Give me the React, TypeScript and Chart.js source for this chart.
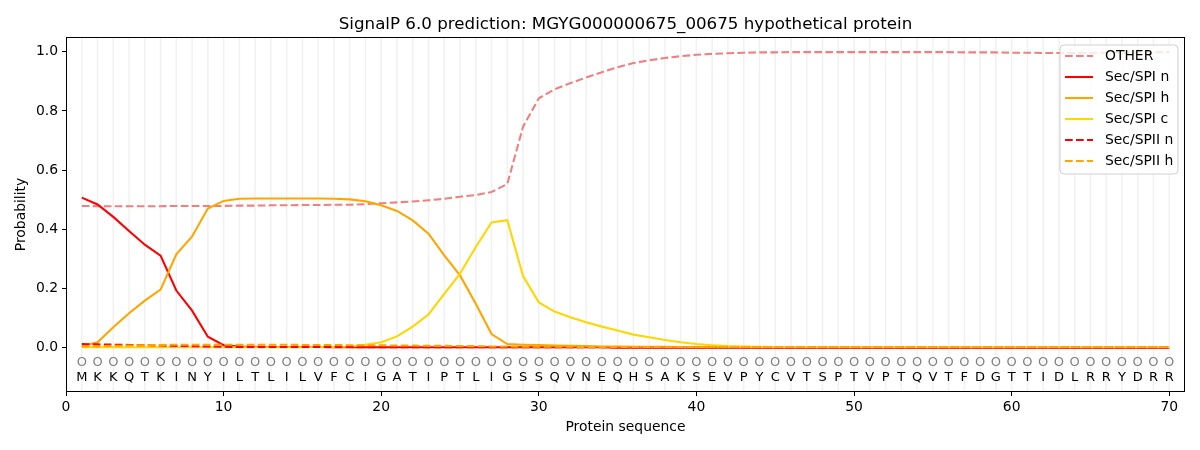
import { useEffect, useRef } from "react";
import { Chart, registerables } from "chart.js";

Chart.register(...registerables);

const FONT = "'DejaVu Sans', 'Liberation Sans', sans-serif";

const chartTitle = "SignalP 6.0 prediction: MGYG000000675_00675 hypothetical protein";
const xAxisTitle = "Protein sequence";
const yAxisTitle = "Probability";

const residues = [
  "M", "K", "K", "Q", "T", "K", "I", "N", "Y", "I",
  "L", "T", "L", "I", "L", "V", "F", "C", "I", "G",
  "A", "T", "I", "P", "T", "L", "I", "G", "S", "S",
  "Q", "V", "N", "E", "Q", "H", "S", "A", "K", "S",
  "E", "V", "P", "Y", "C", "V", "T", "S", "P", "T",
  "V", "P", "T", "Q", "V", "T", "F", "D", "G", "T",
  "T", "I", "D", "L", "R", "R", "Y", "D", "R", "R",
];
const predictedLabels = residues.map(() => "O");

const otherProb = [
  0.479, 0.478, 0.478, 0.478, 0.478, 0.478, 0.479, 0.479, 0.479, 0.479,
  0.480, 0.480, 0.481, 0.481, 0.482, 0.482, 0.483, 0.483, 0.485, 0.488,
  0.491, 0.494, 0.498, 0.503, 0.510, 0.516, 0.526, 0.553, 0.747, 0.843,
  0.873, 0.894, 0.913, 0.931, 0.948, 0.962, 0.971, 0.979, 0.985, 0.990,
  0.993, 0.995, 0.997, 0.998, 0.998, 0.999, 0.999, 0.999, 0.999, 0.999,
  0.999, 0.999, 0.999, 0.999, 0.999, 0.999, 0.998, 0.998, 0.998, 0.997,
  0.997, 0.996, 0.996, 0.996, 0.997, 0.997, 0.998, 0.998, 0.999, 0.999,
];
const spiN = [
  0.507, 0.484, 0.442, 0.394, 0.348, 0.311, 0.193, 0.125, 0.037, 0.008,
  0.004, 0.003, 0.002, 0.002, 0.002, 0.002, 0.001, 0.001, 0.001, 0.001,
  0.001, 0.001, 0.001, 0.001, 0.001, 0.001, 0.001, 0.001, 0.001, 0.001,
  0.001, 0.001, 0.001, 0.001, 0.000, 0.000, 0.000, 0.000, 0.000, 0.000,
  0.000, 0.000, 0.000, 0.000, 0.000, 0.000, 0.000, 0.000, 0.000, 0.000,
  0.000, 0.000, 0.000, 0.000, 0.000, 0.000, 0.000, 0.000, 0.000, 0.000,
  0.000, 0.000, 0.000, 0.000, 0.000, 0.000, 0.000, 0.000, 0.000, 0.000,
];
const spiH = [
  0.005, 0.018, 0.069, 0.116, 0.159, 0.196, 0.315, 0.376, 0.470, 0.496,
  0.503, 0.504, 0.504, 0.504, 0.504, 0.504, 0.503, 0.501, 0.495, 0.481,
  0.462, 0.430, 0.385, 0.312, 0.244, 0.148, 0.046, 0.012, 0.010, 0.009,
  0.007, 0.006, 0.005, 0.004, 0.004, 0.003, 0.003, 0.003, 0.002, 0.002,
  0.002, 0.002, 0.002, 0.002, 0.002, 0.002, 0.002, 0.002, 0.002, 0.002,
  0.002, 0.002, 0.002, 0.002, 0.002, 0.002, 0.002, 0.002, 0.002, 0.002,
  0.002, 0.002, 0.002, 0.002, 0.002, 0.002, 0.002, 0.002, 0.002, 0.002,
];
const spiC = [
  0.001, 0.001, 0.001, 0.001, 0.001, 0.001, 0.001, 0.001, 0.001, 0.001,
  0.001, 0.001, 0.001, 0.001, 0.001, 0.002, 0.002, 0.004, 0.010, 0.018,
  0.038, 0.071, 0.112, 0.182, 0.250, 0.340, 0.423, 0.431, 0.242, 0.153,
  0.122, 0.103, 0.086, 0.071, 0.058, 0.044, 0.035, 0.026, 0.018, 0.012,
  0.008, 0.005, 0.004, 0.003, 0.002, 0.002, 0.002, 0.002, 0.002, 0.002,
  0.002, 0.002, 0.002, 0.002, 0.002, 0.002, 0.002, 0.002, 0.002, 0.002,
  0.002, 0.002, 0.002, 0.002, 0.002, 0.002, 0.002, 0.002, 0.002, 0.002,
];
const spiiN = [
  0.012, 0.011, 0.010, 0.009, 0.008, 0.007, 0.006, 0.005, 0.004, 0.003,
  0.002, 0.002, 0.002, 0.002, 0.002, 0.002, 0.002, 0.002, 0.001, 0.001,
  0.001, 0.001, 0.001, 0.001, 0.001, 0.001, 0.001, 0.001, 0.001, 0.001,
  0.001, 0.001, 0.001, 0.001, 0.001, 0.001, 0.001, 0.001, 0.001, 0.001,
  0.001, 0.001, 0.001, 0.001, 0.001, 0.001, 0.001, 0.001, 0.001, 0.001,
  0.001, 0.001, 0.001, 0.001, 0.001, 0.001, 0.001, 0.001, 0.001, 0.001,
  0.001, 0.001, 0.001, 0.001, 0.001, 0.001, 0.001, 0.001, 0.001, 0.001,
];
const spiiH = [
  0.004, 0.005, 0.006, 0.007, 0.008, 0.009, 0.010, 0.010, 0.010, 0.010,
  0.010, 0.010, 0.010, 0.010, 0.009, 0.009, 0.009, 0.008, 0.008, 0.008,
  0.007, 0.007, 0.006, 0.006, 0.005, 0.005, 0.004, 0.004, 0.003, 0.003,
  0.003, 0.003, 0.002, 0.002, 0.002, 0.002, 0.002, 0.002, 0.002, 0.002,
  0.002, 0.002, 0.002, 0.002, 0.002, 0.002, 0.002, 0.002, 0.002, 0.002,
  0.002, 0.002, 0.002, 0.002, 0.002, 0.002, 0.002, 0.002, 0.002, 0.002,
  0.002, 0.002, 0.002, 0.002, 0.002, 0.002, 0.002, 0.002, 0.002, 0.002,
];

const seriesNames = ["OTHER", "Sec/SPI n", "Sec/SPI h", "Sec/SPI c", "Sec/SPII n", "Sec/SPII h"];
const seriesValues = [otherProb, spiN, spiH, spiC, spiiN, spiiH];
const seriesColors = ["#f08080", "#ff0000", "#ffa500", "#ffd700", "#ff0000", "#ffa500"];
const seriesDashed = [true, false, false, false, true, true];

const xTicks = [0, 10, 20, 30, 40, 50, 60, 70];
const yTicks = [0, 0.2, 0.4, 0.6, 0.8, 1.0];
const xRange = [0, 71];
const yRange = [-0.15, 1.05];
const labelRowY = -0.05;
const residueRowY = -0.1;

const LW = 2.08;
const DASH = [7.7, 3.3];

const decorPlugin = {
  id: "decor",
  beforeDatasetsDraw(chart: any) {
    const { ctx, chartArea: a, scales } = chart;
    ctx.save();
    ctx.beginPath();
    ctx.rect(a.left, a.top, a.right - a.left, a.bottom - a.top);
    ctx.clip();
    ctx.strokeStyle = "rgba(0,0,0,0.055)";
    ctx.lineWidth = 1.6;
    ctx.beginPath();
    residues.forEach((_, i) => {
      const x = scales.x.getPixelForValue(i + 1);
      ctx.moveTo(x, a.top);
      ctx.lineTo(x, a.bottom);
    });
    ctx.stroke();
    ctx.restore();
  },
  afterDatasetsDraw(chart: any) {
    const { ctx, chartArea: a, scales } = chart;
    ctx.save();
    // residue rows
    ctx.textAlign = "center";
    ctx.textBaseline = "middle";
    ctx.font = `13px ${FONT}`;
    const yO = scales.y.getPixelForValue(labelRowY);
    const yR = scales.y.getPixelForValue(residueRowY);
    residues.forEach((r, i) => {
      const x = scales.x.getPixelForValue(i + 1);
      ctx.fillStyle = "#808080";
      ctx.fillText(predictedLabels[i], x, yO);
      ctx.fillStyle = "#000000";
      ctx.fillText(r, x, yR);
    });
    // frame
    ctx.strokeStyle = "#000000";
    ctx.lineWidth = 1;
    ctx.strokeRect(Math.round(a.left) + 0.5, Math.round(a.top) + 0.5, Math.round(a.right - a.left) - 1, Math.round(a.bottom - a.top) - 1);
    // title
    ctx.fillStyle = "#000000";
    ctx.textAlign = "center";
    ctx.textBaseline = "alphabetic";
    ctx.font = `16.7px ${FONT}`;
    ctx.fillText(chartTitle, (a.left + a.right) / 2, 29);
    // axis titles
    ctx.font = `13.9px ${FONT}`;
    ctx.textBaseline = "middle";
    ctx.fillText(xAxisTitle, (a.left + a.right) / 2, 427);
    ctx.save();
    ctx.translate(21, (a.top + a.bottom) / 2);
    ctx.rotate(-Math.PI / 2);
    ctx.fillText(yAxisTitle, 0, 0);
    ctx.restore();
    // legend
    const bx = 1060, by = 45, bw = 118, bh = 129, r = 4;
    ctx.beginPath();
    ctx.moveTo(bx + r, by);
    ctx.lineTo(bx + bw - r, by);
    ctx.arcTo(bx + bw, by, bx + bw, by + r, r);
    ctx.lineTo(bx + bw, by + bh - r);
    ctx.arcTo(bx + bw, by + bh, bx + bw - r, by + bh, r);
    ctx.lineTo(bx + r, by + bh);
    ctx.arcTo(bx, by + bh, bx, by + bh - r, r);
    ctx.lineTo(bx, by + r);
    ctx.arcTo(bx, by, bx + r, by, r);
    ctx.closePath();
    ctx.fillStyle = "rgba(255,255,255,0.8)";
    ctx.fill();
    ctx.strokeStyle = "#d0d0d0";
    ctx.lineWidth = 1;
    ctx.stroke();
    ctx.textAlign = "left";
    seriesNames.forEach((name, i) => {
      const y = 56 + i * 21;
      ctx.beginPath();
      ctx.strokeStyle = seriesColors[i];
      ctx.lineWidth = LW;
      ctx.setLineDash(seriesDashed[i] ? DASH : []);
      ctx.moveTo(1065, y);
      ctx.lineTo(1093, y);
      ctx.stroke();
      ctx.setLineDash([]);
      ctx.fillStyle = "#000000";
      ctx.fillText(name, 1105, y);
    });
    ctx.restore();
  },
};

export default function App() {
  const canvasRef = useRef<HTMLCanvasElement | null>(null);

  useEffect(() => {
    const canvas = canvasRef.current;
    if (!canvas) return;
    const datasets = seriesNames.map((name, i) => ({
      label: name,
      data: seriesValues[i].map((v, j) => ({ x: j + 1, y: v })),
      borderColor: seriesColors[i],
      backgroundColor: seriesColors[i],
      borderWidth: LW,
      borderDash: seriesDashed[i] ? DASH : [],
      pointRadius: 0,
      tension: 0,
      fill: false,
      order: seriesNames.length - i,
    }));
    const chart = new Chart(canvas, {
      type: "line",
      data: { datasets },
      options: {
        animation: false,
        responsive: true,
        maintainAspectRatio: false,
        layout: { padding: { left: 0, right: 15, top: 37, bottom: 0 } },
        plugins: {
          legend: { display: false },
          title: { display: false },
          tooltip: { enabled: false },
        },
        scales: {
          x: {
            type: "linear",
            min: xRange[0],
            max: xRange[1],
            afterFit: (s: any) => { s.height = 58; },
            afterBuildTicks: (s: any) => { s.ticks = xTicks.map((v) => ({ value: v })); },
            grid: { display: true, drawOnChartArea: false, drawTicks: true, tickLength: 4, color: "#000000", tickWidth: 1 },
            border: { display: false },
            ticks: {
              font: { family: FONT, size: 13.9 },
              color: "#000000",
              padding: 3,
              maxRotation: 0,
              autoSkip: false,
              callback: (v: any) => String(v),
            },
          },
          y: {
            type: "linear",
            min: yRange[0],
            max: yRange[1],
            afterFit: (s: any) => { s.width = 66; },
            afterBuildTicks: (s: any) => { s.ticks = yTicks.map((v) => ({ value: v })); },
            grid: { display: true, drawOnChartArea: false, drawTicks: true, tickLength: 4, color: "#000000", tickWidth: 1 },
            border: { display: false },
            ticks: {
              font: { family: FONT, size: 13.9 },
              color: "#000000",
              padding: 4,
              autoSkip: false,
              callback: (v: any) => Number(v).toFixed(1),
            },
          },
        },
      },
      plugins: [decorPlugin],
    });
    return () => chart.destroy();
  }, []);

  return (
    <div style={{ position: "fixed", left: 0, top: 0, width: 1200, height: 450, background: "#ffffff" }}>
      <canvas ref={canvasRef} />
    </div>
  );
}
